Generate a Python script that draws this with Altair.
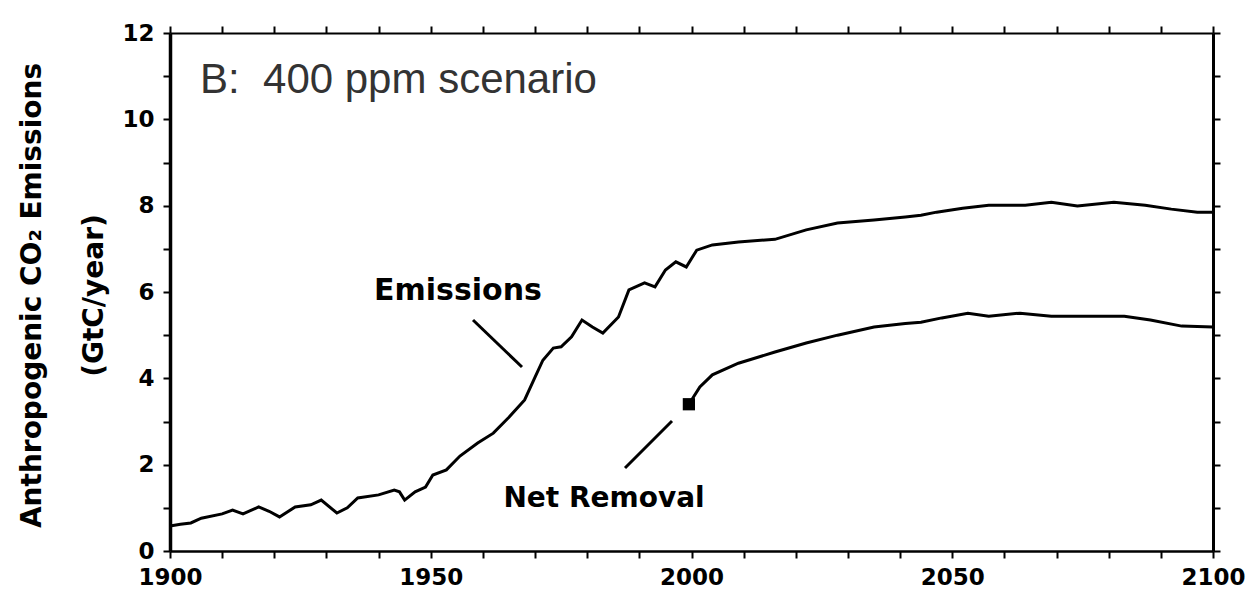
import altair as alt
import pandas as pd

# Emissions curve (year, GtC/year)
em_year = [1900, 1902, 1904, 1906, 1910, 1912, 1914, 1917, 1919, 1921, 1924, 1927, 1929,
           1932, 1934, 1936, 1940, 1943, 1944, 1945, 1947, 1949, 1950.4, 1953, 1955.6,
           1959, 1962, 1965, 1968, 1970, 1971.5, 1973.5, 1975, 1977, 1979, 1981, 1983,
           1986, 1988, 1991, 1993, 1995, 1997, 1999, 2001, 2004, 2009, 2016, 2022, 2028,
           2035, 2041, 2044, 2047, 2052, 2057, 2064, 2069, 2074, 2081, 2087, 2092, 2097, 2100]
em_val = [0.58, 0.62, 0.65, 0.76, 0.86, 0.95, 0.86, 1.02, 0.92, 0.79, 1.02, 1.07, 1.18,
          0.88, 1.00, 1.23, 1.30, 1.41, 1.37, 1.18, 1.37, 1.48, 1.76, 1.88, 2.20,
          2.50, 2.73, 3.10, 3.50, 4.03, 4.42, 4.70, 4.73, 4.96, 5.35, 5.19, 5.05,
          5.42, 6.05, 6.21, 6.12, 6.51, 6.70, 6.58, 6.97, 7.09, 7.16, 7.22, 7.44, 7.60,
          7.67, 7.74, 7.78, 7.85, 7.94, 8.01, 8.01, 8.08, 7.99, 8.08, 8.01, 7.92, 7.85, 7.85]

# Net removal curve
nr_year = [1999.5, 2001.6, 2004, 2009, 2016, 2022, 2028, 2035, 2041, 2044, 2048, 2053,
           2057, 2063, 2069, 2083, 2088, 2094, 2100]
nr_val = [3.40, 3.80, 4.08, 4.35, 4.61, 4.82, 5.00, 5.19, 5.27, 5.30, 5.40, 5.51,
          5.44, 5.51, 5.44, 5.44, 5.35, 5.21, 5.19]

x_ticks = list(range(1900, 2101, 10))
y_ticks = list(range(0, 13))
y_title = ["Anthropogenic CO₂ Emissions", "(GtC/year)"]
panel_label = "B:\u00a0 400 ppm scenario"
em_label = "Emissions"
nr_label = "Net Removal"

em = pd.DataFrame({"year": em_year, "value": em_val})
nr = pd.DataFrame({"year": nr_year, "value": nr_val})
dot = nr.iloc[[0]]

xs = alt.Scale(domain=[1900, 2100], nice=False, zero=False)
ys = alt.Scale(domain=[0, 12], nice=False, zero=False)

common = dict(grid=False, domainColor="black", tickColor="black", tickSize=7,
              labelFont="DejaVu Sans", labelFontWeight="bold", labelFontSize=23,
              labelColor="black", labelOverlap=False, labelFlush=False)

x_bottom = alt.Axis(orient="bottom", values=x_ticks, format="d", title=None,
                    labelExpr="datum.value % 50 == 0 ? datum.label : ''",
                    labelPadding=8, tickWidth=2, domainWidth=2.5, **common)
y_left = alt.Axis(orient="left", values=y_ticks, format="d", title=y_title,
                  labelExpr="datum.value % 2 == 0 ? datum.label : ''",
                  labelPadding=9, tickWidth=2, domainWidth=3.5,
                  titleFont="DejaVu Sans", titleFontWeight="bold", titleFontSize=28,
                  titleColor="black", titleLineHeight=62, titleAngle=270,
                  titleAlign="center", titleBaseline="alphabetic",
                  titleX=-130, titleY=262, **common)
x_top = alt.Axis(orient="top", values=x_ticks, labels=False, title=None,
                 tickWidth=2, domainWidth=2, grid=False, domainColor="black",
                 tickColor="black", tickSize=7)
y_right = alt.Axis(orient="right", values=y_ticks, labels=False, title=None,
                   tickWidth=2, domainWidth=3, grid=False, domainColor="black",
                   tickColor="black", tickSize=7)

emis = alt.Chart(em).mark_line(color="black", strokeWidth=3).encode(
    x=alt.X("year:Q", scale=xs, axis=x_bottom),
    y=alt.Y("value:Q", scale=ys, axis=y_left),
)
netr = alt.Chart(nr).mark_line(color="black", strokeWidth=3).encode(
    x=alt.X("year:Q", scale=xs, axis=x_top),
    y=alt.Y("value:Q", scale=ys, axis=y_right),
)
marker = alt.Chart(dot).mark_square(color="black", size=150, opacity=1).encode(
    x=alt.X("year:Q", scale=xs, axis=None),
    y=alt.Y("value:Q", scale=ys, axis=None),
)

base_txt = alt.Chart(pd.DataFrame({"t": [0]}))
t_panel = base_txt.mark_text(text=panel_label, font="Liberation Sans", fontSize=42,
                             color="#333333", align="left", baseline="alphabetic").encode(
    x=alt.value(30), y=alt.value(60))
t_em = base_txt.mark_text(text=em_label, font="DejaVu Sans", fontWeight="bold", fontSize=30,
                          color="black", align="center", baseline="alphabetic").encode(
    x=alt.value(288), y=alt.value(267))
t_nr = base_txt.mark_text(text=nr_label, font="DejaVu Sans", fontWeight="bold", fontSize=28,
                          color="black", align="center", baseline="alphabetic").encode(
    x=alt.value(434), y=alt.value(474))
l_em = base_txt.mark_rule(color="black", strokeWidth=3).encode(
    x=alt.value(303), x2=alt.value(352), y=alt.value(287), y2=alt.value(334))
l_nr = base_txt.mark_rule(color="black", strokeWidth=3).encode(
    x=alt.value(455), x2=alt.value(502), y=alt.value(435), y2=alt.value(388))

chart = alt.layer(emis, netr, marker, t_panel, t_em, t_nr, l_em, l_nr).resolve_axis(
    x="independent", y="independent"
).properties(
    width=1043, height=518,
    autosize=alt.AutoSizeParams(type="none"),
    padding={"left": 162, "top": 25, "right": 36, "bottom": 43},
    background="white",
).configure_view(strokeWidth=0)

chart.save("out.html", embed_options={"renderer": "svg", "actions": False})
